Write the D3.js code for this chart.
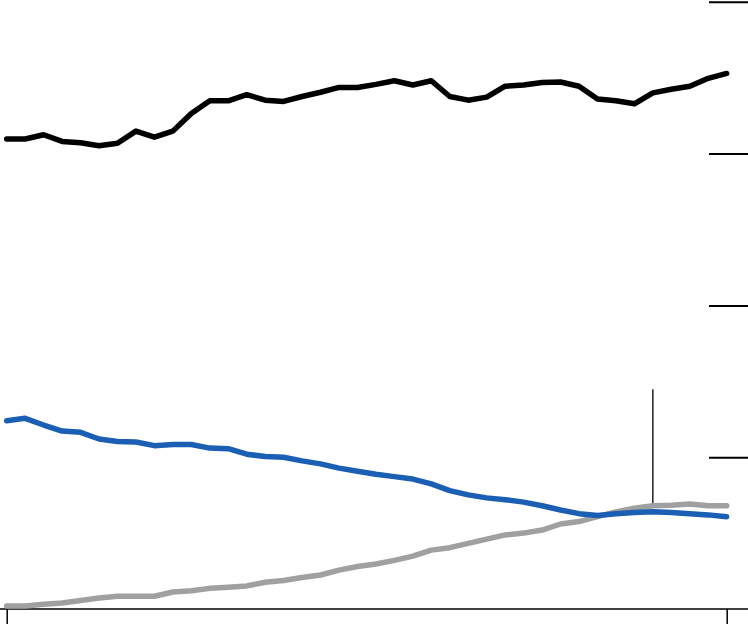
<!DOCTYPE html>
<html>
<head>
<meta charset="utf-8">
<script src="https://cdn.jsdelivr.net/npm/d3@7"></script>
<style>
  body { margin: 0; background: #fff; }
</style>
</head>
<body>
<div id="chart"></div>
<script>
const width = 748;
const height = 624;

// years on the x axis
const years = d3.range(1980, 2020);

const blackSeries = [77.4, 77.4, 78.1, 77.0, 76.8, 76.3, 76.7, 78.7, 77.7, 78.7,
  81.6, 83.7, 83.7, 84.7, 83.8, 83.6, 84.4, 85.1, 85.9, 85.9,
  86.4, 87.0, 86.3, 87.0, 84.4, 83.8, 84.3, 86.1, 86.3, 86.7,
  86.8, 86.1, 84.0, 83.7, 83.2, 85.0, 85.6, 86.1, 87.4, 88.2];

const blueSeries = [31.0, 31.4, 30.3, 29.3, 29.1, 28.0, 27.6, 27.5, 26.9, 27.1,
  27.1, 26.5, 26.4, 25.5, 25.1, 25.0, 24.4, 23.9, 23.2, 22.7,
  22.2, 21.8, 21.4, 20.6, 19.5, 18.8, 18.3, 18.0, 17.6, 17.0,
  16.3, 15.7, 15.4, 15.7, 15.9, 16.0, 15.9, 15.7, 15.5, 15.2];

const greySeries = [0.5, 0.5, 0.8, 1.0, 1.4, 1.8, 2.1, 2.1, 2.1, 2.8,
  3.0, 3.4, 3.6, 3.8, 4.4, 4.7, 5.2, 5.6, 6.4, 7.0,
  7.4, 8.0, 8.7, 9.7, 10.1, 10.8, 11.5, 12.2, 12.5, 13.0,
  14.0, 14.4, 15.2, 16.0, 16.6, 17.0, 17.1, 17.3, 17.0, 17.0];

const yTicks = [0, 25, 50, 75, 100];
const xTicks = [1980, 2019];

// annotation marker
const noteYear = 2015;
const noteRange = [17.4, 36.2];

const svg = d3.select("#chart")
  .append("svg")
  .attr("width", width)
  .attr("height", height);

const x = d3.scaleLinear().domain([1980, 2019]).range([6.7, 726.7]);
const y = d3.scaleLinear().domain([0, 100]).range([609, 1.8]);

// right-hand gridline ticks (no labels)
const yAxis = svg.append("g")
  .attr("transform", `translate(${width},0)`)
  .call(d3.axisLeft(y).tickValues(yTicks.filter(d => d > 0)).tickSize(39).tickFormat(""));
yAxis.select(".domain").remove();
yAxis.selectAll("line").attr("stroke", "#000").attr("stroke-width", 2);

// baseline
svg.append("line")
  .attr("x1", 0)
  .attr("x2", width)
  .attr("y1", y(0))
  .attr("y2", y(0))
  .attr("stroke", "#000")
  .attr("stroke-width", 1.5);

const xAxis = svg.append("g")
  .attr("transform", `translate(0,${y(0)})`)
  .call(d3.axisBottom(x).tickValues(xTicks).tickSize(16).tickFormat(""));
xAxis.select(".domain").remove();
xAxis.selectAll("line").attr("stroke", "#000").attr("stroke-width", 1.5);

// annotation line
svg.append("line")
  .attr("x1", x(noteYear))
  .attr("x2", x(noteYear))
  .attr("y1", y(noteRange[0]))
  .attr("y2", y(noteRange[1]))
  .attr("stroke", "#000")
  .attr("stroke-width", 1.3);

const line = d3.line()
  .x((d, i) => x(years[i]))
  .y(d => y(d));

const series = [
  { values: greySeries, color: "#a0a0a0" },
  { values: blueSeries, color: "#1a5fb4" },
  { values: blackSeries, color: "#000" }
];

svg.selectAll("path.series")
  .data(series)
  .join("path")
  .attr("class", "series")
  .attr("fill", "none")
  .attr("stroke", d => d.color)
  .attr("stroke-width", 5.5)
  .attr("stroke-linejoin", "round")
  .attr("stroke-linecap", "round")
  .attr("d", d => line(d.values));
</script>
</body>
</html>
